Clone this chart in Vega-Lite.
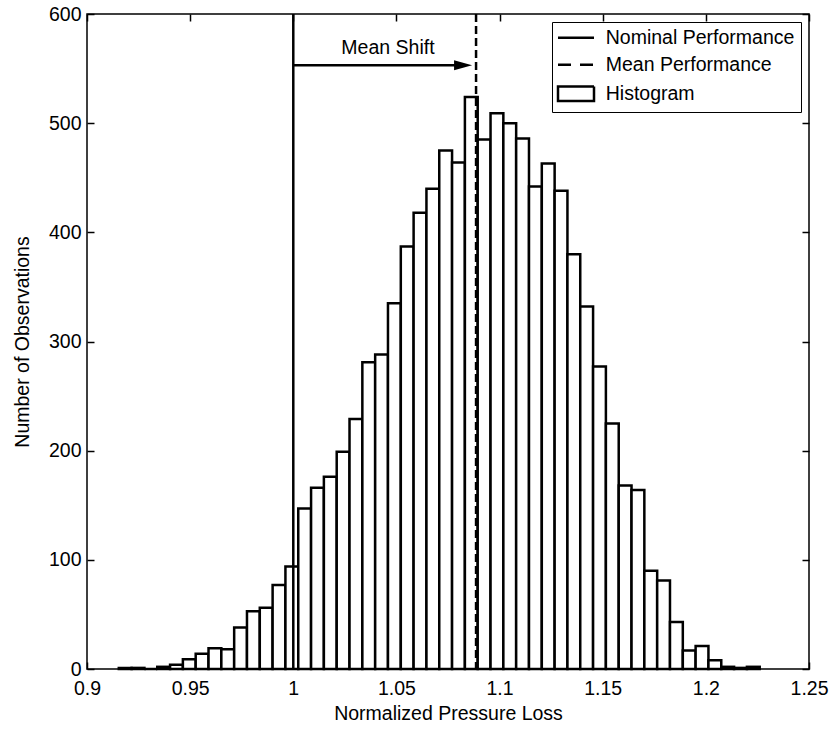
{
  "$schema": "https://vega.github.io/schema/vega-lite/v6.json",
  "width": 722,
  "height": 655,
  "autosize": {"type": "none"},
  "padding": {"left": 87, "top": 14, "right": 29, "bottom": 60},
  "background": "white",
  "config": {
    "font": "Liberation Sans",
    "view": {"stroke": "black", "strokeWidth": 1.5},
    "axis": {
      "domain": false,
      "grid": false,
      "tickColor": "black",
      "tickSize": -7,
      "tickWidth": 1.5,
      "labelColor": "black",
      "labelFontSize": 19.5,
      "titleFontSize": 19.5,
      "titleFontWeight": "normal",
      "titleColor": "black",
      "labelFlush": false,
      "labelOverlap": false
    }
  },
  "datasets": {
    "bins": [
      {"lo": 0.91541, "hi": 0.92162, "n": 1},
      {"lo": 0.92162, "hi": 0.92784, "n": 1},
      {"lo": 0.92784, "hi": 0.93405, "n": 0},
      {"lo": 0.93405, "hi": 0.94027, "n": 2},
      {"lo": 0.94027, "hi": 0.94648, "n": 4},
      {"lo": 0.94648, "hi": 0.95269, "n": 9},
      {"lo": 0.95269, "hi": 0.95891, "n": 14},
      {"lo": 0.95891, "hi": 0.96512, "n": 19},
      {"lo": 0.96512, "hi": 0.97134, "n": 18},
      {"lo": 0.97134, "hi": 0.97755, "n": 38},
      {"lo": 0.97755, "hi": 0.98376, "n": 53},
      {"lo": 0.98376, "hi": 0.98998, "n": 56},
      {"lo": 0.98998, "hi": 0.99619, "n": 77},
      {"lo": 0.99619, "hi": 1.00241, "n": 94},
      {"lo": 1.00241, "hi": 1.00862, "n": 147},
      {"lo": 1.00862, "hi": 1.01483, "n": 166},
      {"lo": 1.01483, "hi": 1.02105, "n": 176},
      {"lo": 1.02105, "hi": 1.02726, "n": 199},
      {"lo": 1.02726, "hi": 1.03348, "n": 229},
      {"lo": 1.03348, "hi": 1.03969, "n": 281},
      {"lo": 1.03969, "hi": 1.04590, "n": 288},
      {"lo": 1.04590, "hi": 1.05212, "n": 335},
      {"lo": 1.05212, "hi": 1.05833, "n": 387},
      {"lo": 1.05833, "hi": 1.06455, "n": 418},
      {"lo": 1.06455, "hi": 1.07076, "n": 440},
      {"lo": 1.07076, "hi": 1.07697, "n": 475},
      {"lo": 1.07697, "hi": 1.08319, "n": 464},
      {"lo": 1.08319, "hi": 1.08940, "n": 524},
      {"lo": 1.08940, "hi": 1.09562, "n": 485},
      {"lo": 1.09562, "hi": 1.10183, "n": 509},
      {"lo": 1.10183, "hi": 1.10804, "n": 500},
      {"lo": 1.10804, "hi": 1.11426, "n": 486},
      {"lo": 1.11426, "hi": 1.12047, "n": 442},
      {"lo": 1.12047, "hi": 1.12669, "n": 463},
      {"lo": 1.12669, "hi": 1.13290, "n": 438},
      {"lo": 1.13290, "hi": 1.13911, "n": 380},
      {"lo": 1.13911, "hi": 1.14533, "n": 332},
      {"lo": 1.14533, "hi": 1.15154, "n": 277},
      {"lo": 1.15154, "hi": 1.15776, "n": 225},
      {"lo": 1.15776, "hi": 1.16397, "n": 168},
      {"lo": 1.16397, "hi": 1.17018, "n": 164},
      {"lo": 1.17018, "hi": 1.17640, "n": 90},
      {"lo": 1.17640, "hi": 1.18261, "n": 81},
      {"lo": 1.18261, "hi": 1.18883, "n": 43},
      {"lo": 1.18883, "hi": 1.19504, "n": 17},
      {"lo": 1.19504, "hi": 1.20125, "n": 21},
      {"lo": 1.20125, "hi": 1.20747, "n": 8},
      {"lo": 1.20747, "hi": 1.21368, "n": 2},
      {"lo": 1.21368, "hi": 1.21990, "n": 1},
      {"lo": 1.21990, "hi": 1.22611, "n": 2}
    ]
  },
  "resolve": {"axis": {"x": "independent", "y": "independent"}},
  "layer": [
    {
      "data": {"name": "bins"},
      "mark": {"type": "bar", "fill": "white", "stroke": "black", "strokeWidth": 2.5},
      "encoding": {
        "x": {
          "field": "lo",
          "type": "quantitative",
          "scale": {"domain": [0.9, 1.25], "nice": false, "zero": false},
          "axis": {
            "orient": "bottom",
            "values": [0.9, 0.95, 1, 1.05, 1.1, 1.15, 1.2, 1.25],
            "format": "~g",
            "labelPadding": 17,
            "title": "Normalized Pressure Loss",
            "titlePadding": 7
          }
        },
        "x2": {"field": "hi"},
        "y": {
          "field": "n",
          "type": "quantitative",
          "scale": {"domain": [0, 600], "nice": false},
          "axis": {
            "orient": "left",
            "values": [0, 100, 200, 300, 400, 500, 600],
            "labelPadding": 13,
            "title": "Number of Observations",
            "titlePadding": 16
          }
        },
        "y2": {"datum": 0}
      }
    },
    {
      "data": {"values": [{"x": 1.0}]},
      "mark": {"type": "rule", "strokeWidth": 2.5, "color": "black"},
      "encoding": {
        "x": {
          "field": "x",
          "type": "quantitative",
          "axis": {
            "orient": "top",
            "values": [0.9, 0.95, 1, 1.05, 1.1, 1.15, 1.2, 1.25],
            "labels": false,
            "title": null
          }
        }
      }
    },
    {
      "data": {"values": [{"x": 1.0886}]},
      "mark": {"type": "rule", "strokeWidth": 2.5, "strokeDash": [8, 4], "color": "black"},
      "encoding": {
        "x": {"field": "x", "type": "quantitative", "axis": null}
      }
    },
    {
      "data": {"values": [{}]},
      "mark": {"type": "rule", "strokeWidth": 2.5, "color": "black"},
      "encoding": {
        "x": {"datum": 1.0, "type": "quantitative", "axis": null},
        "x2": {"datum": 1.0823},
        "y": {
          "datum": 553,
          "type": "quantitative",
          "axis": {
            "orient": "right",
            "values": [0, 100, 200, 300, 400, 500, 600],
            "labels": false,
            "title": null
          }
        }
      }
    },
    {
      "data": {"values": [{}]},
      "mark": {
        "type": "point",
        "shape": "M-1,-0.55L1,0L-1,0.55Z",
        "size": 324,
        "filled": true,
        "color": "black",
        "opacity": 1
      },
      "encoding": {
        "x": {"datum": 1.0823, "type": "quantitative", "axis": null},
        "y": {"datum": 553, "type": "quantitative", "axis": null}
      }
    },
    {
      "data": {"values": [{"label": "Mean Shift"}]},
      "mark": {
        "type": "text",
        "fontSize": 19.5,
        "baseline": "alphabetic",
        "align": "center",
        "color": "black"
      },
      "encoding": {
        "x": {"datum": 1.0459, "type": "quantitative", "axis": null},
        "y": {"datum": 563, "type": "quantitative", "axis": null},
        "text": {"field": "label"}
      }
    },
    {
      "data": {
        "values": [
          {"series": "Nominal Performance"},
          {"series": "Mean Performance"},
          {"series": "Histogram"}
        ]
      },
      "mark": {"type": "point", "size": 0, "filled": false, "strokeWidth": 0},
      "encoding": {
        "x": {"datum": 1.0, "type": "quantitative", "axis": null},
        "y": {"datum": 0, "type": "quantitative", "axis": null},
        "stroke": {
          "field": "series",
          "type": "nominal",
          "scale": {
            "domain": ["Nominal Performance", "Mean Performance", "Histogram"],
            "range": ["black", "black", "black"]
          },
          "legend": {
            "title": null,
            "orient": "top-right",
            "offset": 8,
            "padding": 6,
            "rowPadding": 6,
            "strokeColor": "black",
            "fillColor": "white",
            "cornerRadius": 0,
            "labelFontSize": 19.5,
            "labelColor": "black",
            "labelLimit": 400,
            "labelOffset": 20,
            "symbolOffset": 8.25,
            "symbolSize": 144,
            "symbolStrokeWidth": 2.5,
            "symbolStrokeColor": "black",
            "symbolFillColor": "transparent",
            "symbolOpacity": 1,
            "symbolType": {"expr": "datum.value === 'Histogram' ? 'M-3,-1.2H3V1.2H-3Z' : 'M-3,0H3'"},
            "symbolDash": {"expr": "datum.value === 'Mean Performance' ? [13, 9] : [1, 0]"}
          }
        }
      }
    }
  ]
}
